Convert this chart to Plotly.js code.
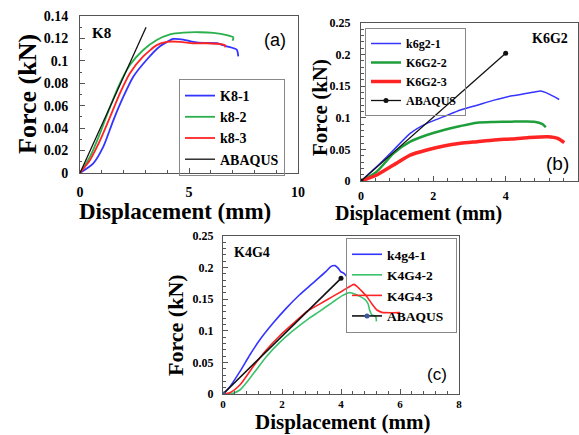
<!DOCTYPE html>
<html><head><meta charset="utf-8">
<script src="https://cdn.plot.ly/plotly-3.0.1.min.js"></script>
<style>html,body{margin:0;padding:0;background:#fff}#chart{width:579px;height:435px}</style>
</head><body><div id="chart"></div>
<script>
// ---- Panel (a): K8 ----
const k8_1_x = [0, 0.61, 1.07, 1.53, 1.99, 2.45, 3.06, 3.67, 4.28, 4.74, 5.2, 5.66, 6.27, 6.73, 7.19, 7.26];
const k8_1_y = [0, 0.0086, 0.0235, 0.047, 0.068, 0.086, 0.101, 0.113, 0.1195, 0.119, 0.117, 0.116, 0.1157, 0.113, 0.11, 0.104];
const k8_2_x = [0, 0.46, 0.92, 1.38, 1.83, 2.29, 2.9, 3.52, 4.13, 4.74, 5.5, 6.12, 6.73, 7.03, 7.0];
const k8_2_y = [0, 0.0146, 0.0354, 0.059, 0.08, 0.0963, 0.1097, 0.1186, 0.1237, 0.1252, 0.1255, 0.1249, 0.123, 0.121, 0.118];
const k8_3_x = [0, 0.46, 0.92, 1.38, 1.83, 2.29, 2.9, 3.52, 3.98, 4.59, 5.2, 5.81, 6.42, 6.65, 6.65];
const k8_3_y = [0, 0.0116, 0.029, 0.05, 0.071, 0.089, 0.104, 0.114, 0.117, 0.117, 0.1157, 0.1157, 0.115, 0.114, 0.112];
const abaqusA_x = [0, 3.03];
const abaqusA_y = [0, 0.13];

// ---- Panel (b): K6G2 ----
const k6g2_1_x = [0, 0.435, 0.9, 1.36, 1.82, 2.29, 2.75, 3.21, 3.68, 4.14, 4.6, 4.97, 5.16, 5.34, 5.48];
const k6g2_1_y = [0, 0.0227, 0.049, 0.0754, 0.0912, 0.1018, 0.1123, 0.12, 0.128, 0.1345, 0.1387, 0.1424, 0.1387, 0.1334, 0.129];
const k6g2_2_x = [0, 0.435, 0.9, 1.36, 1.82, 2.29, 2.75, 3.21, 3.68, 4.14, 4.79, 5.02, 5.11];
const k6g2_2_y = [0, 0.0148, 0.0438, 0.0622, 0.0728, 0.0807, 0.087, 0.0923, 0.0934, 0.0939, 0.0939, 0.09, 0.085];
const k6g2_3_x = [0, 0.435, 0.9, 1.36, 1.82, 2.29, 2.75, 3.21, 3.68, 4.14, 4.6, 5.16, 5.44, 5.62];
const k6g2_3_y = [0, 0.0095, 0.0253, 0.041, 0.049, 0.0554, 0.0596, 0.0622, 0.0649, 0.0665, 0.0686, 0.0701, 0.0675, 0.0607];
const abaqusB_x = [0, 4.0];
const abaqusB_y = [0, 0.202];

// ---- Panel (c): K4G4 ----
const k4g4_1_x = [0, 0.235, 0.571, 0.908, 1.244, 1.692, 2.14, 2.588, 3.036, 3.485, 3.653, 3.798, 3.91, 3.99, 4.1, 4.18];
const k4g4_1_y = [0, 0.0116, 0.0353, 0.0617, 0.0854, 0.1118, 0.1355, 0.1566, 0.1751, 0.1936, 0.2015, 0.2031, 0.1988, 0.1936, 0.191, 0.1867];
const k4g4_2_x = [0, 0.235, 0.571, 1.02, 1.468, 1.916, 2.364, 2.87, 3.26, 3.71, 4.045, 4.27, 4.49, 4.66, 4.83, 4.92, 4.97, 5.05, 5.17, 5.2];
const k4g4_2_y = [0, 0, 0.0063, 0.0316, 0.0591, 0.0812, 0.0997, 0.1181, 0.1303, 0.145, 0.1556, 0.1603, 0.158, 0.154, 0.1487, 0.1424, 0.1329, 0.125, 0.1234, 0.115];
const k4g4_3_x = [0, 0.235, 0.571, 1.02, 1.468, 1.916, 2.364, 2.87, 3.26, 3.71, 4.045, 4.325, 4.437, 4.55, 4.72, 4.88, 5.05, 5.22, 5.39, 6.01];
const k4g4_3_y = [0, 0.0021, 0.0142, 0.0432, 0.0696, 0.0918, 0.1108, 0.1313, 0.1419, 0.154, 0.163, 0.1709, 0.1735, 0.1698, 0.162, 0.154, 0.1424, 0.1329, 0.1292, 0.1287];
const abaqusC_x = [0, 4.0];
const abaqusC_y = [0, 0.183];

const SERIF = 'Liberation Serif, Times New Roman, serif';
const SANS = 'Liberation Sans, Arial, sans-serif';
const BLUE = '#3434ff', RED = '#ff2424', GREEN_A = '#2bb04e', GREEN_B = '#1f9f3c', GREEN_C = '#3cc26c';

function tr(x, y, name, color, width, xa, ya, leg, extra) {
  return Object.assign({type:'scatter', mode:'lines', x:x, y:y, name:name,
    line:{color:color, width:width, shape:'spline', smoothing:0.6},
    xaxis:xa, yaxis:ya, legend:leg, legendgroup:name}, extra||{});
}

const data = [
  tr(k8_1_x, k8_1_y, 'K8-1', BLUE, 1.8, 'x', 'y', 'legend'),
  tr(k8_2_x, k8_2_y, 'k8-2', GREEN_A, 1.8, 'x', 'y', 'legend'),
  tr(k8_3_x, k8_3_y, 'k8-3', RED, 1.8, 'x', 'y', 'legend'),
  tr(abaqusA_x, abaqusA_y, 'ABAQUS', '#111', 1.3, 'x', 'y', 'legend'),

  tr(k6g2_1_x, k6g2_1_y, 'k6g2-1', BLUE, 1.5, 'x2', 'y2', 'legend2'),
  tr(k6g2_2_x, k6g2_2_y, 'K6G2-2', GREEN_B, 2.5, 'x2', 'y2', 'legend2'),
  tr(k6g2_3_x, k6g2_3_y, 'K6G2-3', RED, 3.5, 'x2', 'y2', 'legend2'),
  tr(abaqusB_x, abaqusB_y, 'ABAQUS ', '#111', 1.3, 'x2', 'y2', 'legend2',
     {mode:'lines+markers', marker:{size:5, color:'#111'}}),

  tr(k4g4_1_x, k4g4_1_y, 'k4g4-1', BLUE, 1.6, 'x3', 'y3', 'legend3'),
  tr(k4g4_2_x, k4g4_2_y, 'K4G4-2', GREEN_C, 1.6, 'x3', 'y3', 'legend3'),
  tr(k4g4_3_x, k4g4_3_y, 'K4G4-3', RED, 1.6, 'x3', 'y3', 'legend3'),
  tr(abaqusC_x, abaqusC_y, 'ABAQUS  ', '#111', 1.6, 'x3', 'y3', 'legend3',
     {mode:'lines+markers', marker:{size:5, color:['#3a5a9a', '#111']}})
];

const W = 579, H = 435;
function px(v){ return v / W; }
function py(v){ return 1 - v / H; }

function axis(opts) {
  return Object.assign({
    showline:true, mirror:true, linecolor:'#555', linewidth:1,
    ticks:'inside', ticklen:5, tickcolor:'#555', showgrid:false, zeroline:false,
    fixedrange:true
  }, opts);
}
function tf(size){ return {family:SERIF, size:size, color:'#000', weight:'bold'}; }
function mn(dt, len){ return {dtick:dt, ticks:'inside', ticklen:len, tickcolor:'#555'}; }

function legendOpts(x, y, xanchor, size) {
  return {x:x, y:y, xanchor:xanchor, yanchor:'top', xref:'paper', yref:'paper',
    bgcolor:'rgba(0,0,0,0)', bordercolor:'#888', borderwidth:1,
    font:{family:SERIF, size:size, color:'#000', weight:'bold'},
    tracegroupgap:1, traceorder:'normal'};
}

function ann(text, x, y, size, family, angle) {
  return {text:text, x:px(x), y:py(y), xref:'paper', yref:'paper', showarrow:false,
    xanchor:'center', yanchor:'middle', textangle:angle||0,
    font:{family:family, size:size, color:'#000', weight: family===SERIF ? 'bold' : 'normal'}};
}

const layout = {
  width:W, height:H, margin:{l:0, r:0, t:0, b:0},
  paper_bgcolor:'#fff', plot_bgcolor:'#fff', showlegend:true,
  xaxis: axis({domain:[px(80), px(298)], range:[0,10], dtick:5, anchor:'y',
    minor:mn(1,3), ticklabelstandoff:6, tickfont:tf(14)}),
  yaxis: axis({domain:[py(173), py(16)], range:[0,0.14], dtick:0.02, anchor:'x',
    minor:mn(0.01,2), ticklabelstandoff:8, tickfont:tf(14)}),
  xaxis2: axis({domain:[px(361), px(578)], range:[0,6], dtick:2, anchor:'y2',
    minor:mn(0.4,3), ticklabelstandoff:4, tickfont:tf(12)}),
  yaxis2: axis({domain:[py(181), py(23)], range:[0,0.25], dtick:0.05, anchor:'x2',
    minor:mn(0.01,3), ticklabelstandoff:7, tickfont:tf(12)}),
  xaxis3: axis({domain:[px(223), px(459)], range:[0,8], dtick:2, anchor:'y3',
    minor:mn(0.4,3), ticklabelstandoff:0, tickfont:tf(11)}),
  yaxis3: axis({domain:[py(394), py(236)], range:[0,0.25], dtick:0.05, anchor:'x3',
    minor:mn(0.01,3), ticklabelstandoff:6, tickfont:tf(12)}),
  legend: legendOpts(px(285), py(79), 'right', 14),
  legend2: legendOpts(px(365), py(28), 'left', 12),
  legend3: legendOpts(px(457), py(238), 'right', 13.5),
  annotations: [
    ann('Displacement (mm)', 175, 212, 23, SERIF),
    ann('Force (kN)', 27, 94, 26, SERIF, -90),
    ann('Displacement (mm)', 418, 213, 20, SERIF),
    ann('Force (kN)', 320, 108, 21, SERIF, -90),
    ann('Displacement (mm)', 343, 422, 21, SERIF),
    ann('Force (kN)', 175, 325, 22, SERIF, -90),
    ann('K8', 102, 33, 15, SERIF),
    ann('(a)', 275, 40, 18, SANS),
    ann('K6G2', 550, 39, 14, SERIF),
    ann('(b)', 557, 163, 19, SANS),
    ann('K4G4', 252, 252, 14, SERIF),
    ann('(c)', 437, 374, 17, SANS)
  ]
};

Plotly.newPlot('chart', data, layout, {displayModeBar:false, staticPlot:true});
</script>
</body></html>
